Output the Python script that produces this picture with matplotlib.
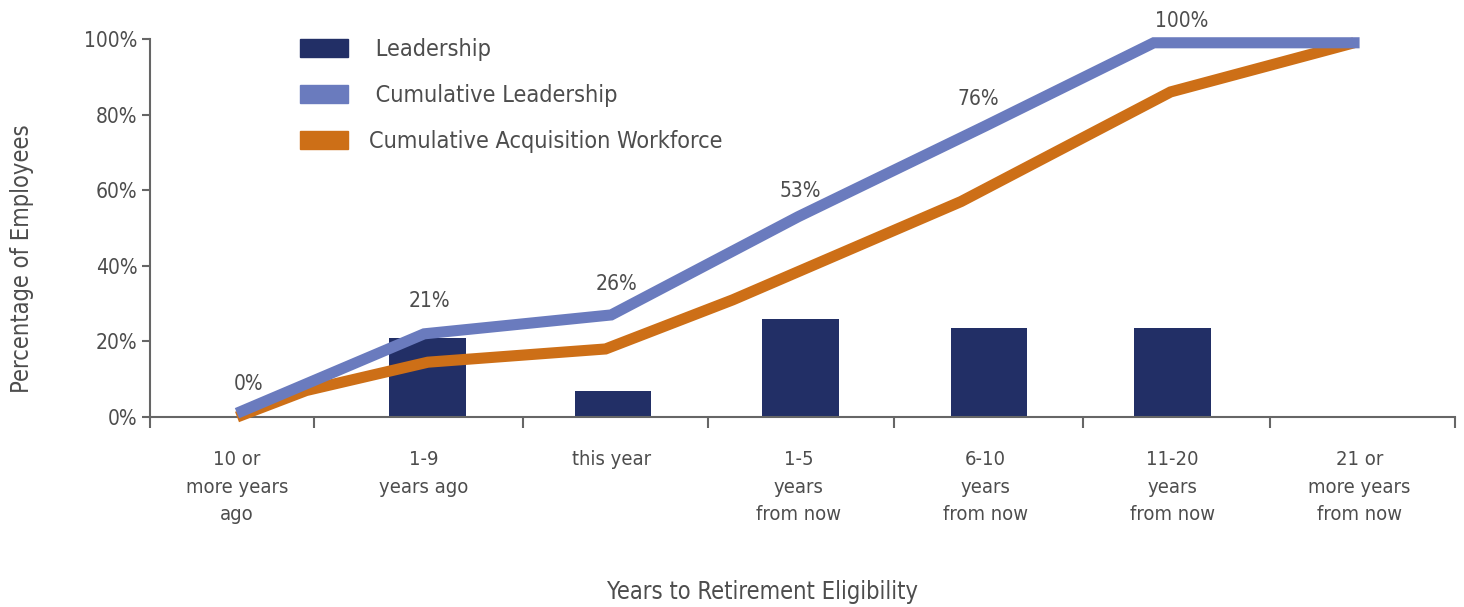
import matplotlib.pyplot as plt
from matplotlib.patches import Patch
from matplotlib.ticker import FixedLocator

# category axis and data
categories = ['10 or\nmore years\nago', '1-9\nyears ago', 'this year',
              '1-5\nyears\nfrom now', '6-10\nyears\nfrom now',
              '11-20\nyears\nfrom now', '21 or\nmore years\nfrom now']
bar_x = [0, 1.02, 2.01, 3.01, 4.02, 5.0, 6]
leadership = [0, 21, 7, 26, 23.5, 23.5, 0]

cum_lead_x = [0, 1, 2, 3, 4, 4.9, 6]
cum_lead = [1, 22, 27, 53, 77, 99, 99]

cum_acq_x = [0, 0.37, 1.02, 1.97, 2.65, 3.87, 4.99, 5.97]
cum_acq = [0, 7, 14.5, 18, 31, 57, 86, 99]

point_labels = ['0%', '21%', '26%', '53%', '76%', '100%']
point_x = [0.06, 1.03, 2.03, 3.01, 3.96, 5.05]
point_y = [8.7, 30.7, 35.2, 59.8, 84.1, 104.8]

NAVY = '#222F66'
BLUE = '#6A7BBE'
ORANGE = '#CD6F17'
TXT = '#4D4D4D'
AX = '#666666'

plt.rcParams['font.family'] = ['DejaVu Sans']
plt.rcParams['font.stretch'] = 'condensed'

fig = plt.figure(figsize=(14.64, 6.07), dpi=100)
ax = fig.add_axes([150/1464, 1-417/607, (1455-150)/1464, (417-39)/607])

ax.bar(bar_x, leadership, width=0.41, color=NAVY, zorder=2)
ax.plot(cum_acq_x, cum_acq, color=ORANGE, lw=8, solid_joinstyle='miter',
        solid_capstyle='butt', zorder=3, clip_on=False)
ax.plot(cum_lead_x, cum_lead, color=BLUE, lw=8, solid_joinstyle='miter',
        solid_capstyle='butt', zorder=4, clip_on=False)

for t, px, py in zip(point_labels, point_x, point_y):
    ax.text(px, py, t, ha='center', va='center', fontsize=15, color=TXT, clip_on=False)

ax.set_xlim(-0.465, 6.51)
ax.set_ylim(0, 100)
ax.set_yticks([0, 20, 40, 60, 80, 100])
ax.set_yticklabels(['0%', '20%', '40%', '60%', '80%', '100%'])
ax.set_xticks(range(len(categories)))
ax.set_xticklabels(categories, linespacing=1.55)
ax.xaxis.set_minor_locator(FixedLocator([-0.465, 0.41, 1.53, 2.52, 3.51, 4.52, 5.52, 6.51]))

ax.tick_params(axis='x', which='major', length=0, pad=24, labelsize=14.5, labelcolor=TXT)
ax.tick_params(axis='x', which='minor', length=8, width=1.5, color=AX, direction='out')
ax.tick_params(axis='y', length=6, width=1.5, color=AX, pad=3, labelsize=15, labelcolor=TXT)

for s in ['top', 'right']:
    ax.spines[s].set_visible(False)
for s in ['left', 'bottom']:
    ax.spines[s].set_color(AX)
    ax.spines[s].set_linewidth(1.5)

handles = [Patch(color=NAVY), Patch(color=BLUE), Patch(color=ORANGE)]
fig.legend(handles, [' Leadership', ' Cumulative Leadership', 'Cumulative Acquisition Workforce'],
           loc='upper left', bbox_to_anchor=(300/1464, 1-38/607), frameon=False,
           fontsize=16.8, labelcolor=TXT, handlelength=2.06, handleheight=0.77,
           handletextpad=0.9, labelspacing=0.99, borderpad=0, borderaxespad=0)

fig.text(22/1464, 1-259/607, 'Percentage of Employees', rotation=90,
         ha='center', va='center', fontsize=17, color=TXT)
fig.text(763/1464, 1-592/607, 'Years to Retirement Eligibility',
         ha='center', va='center', fontsize=17, color=TXT)

fig.savefig('out.png', dpi=100)
